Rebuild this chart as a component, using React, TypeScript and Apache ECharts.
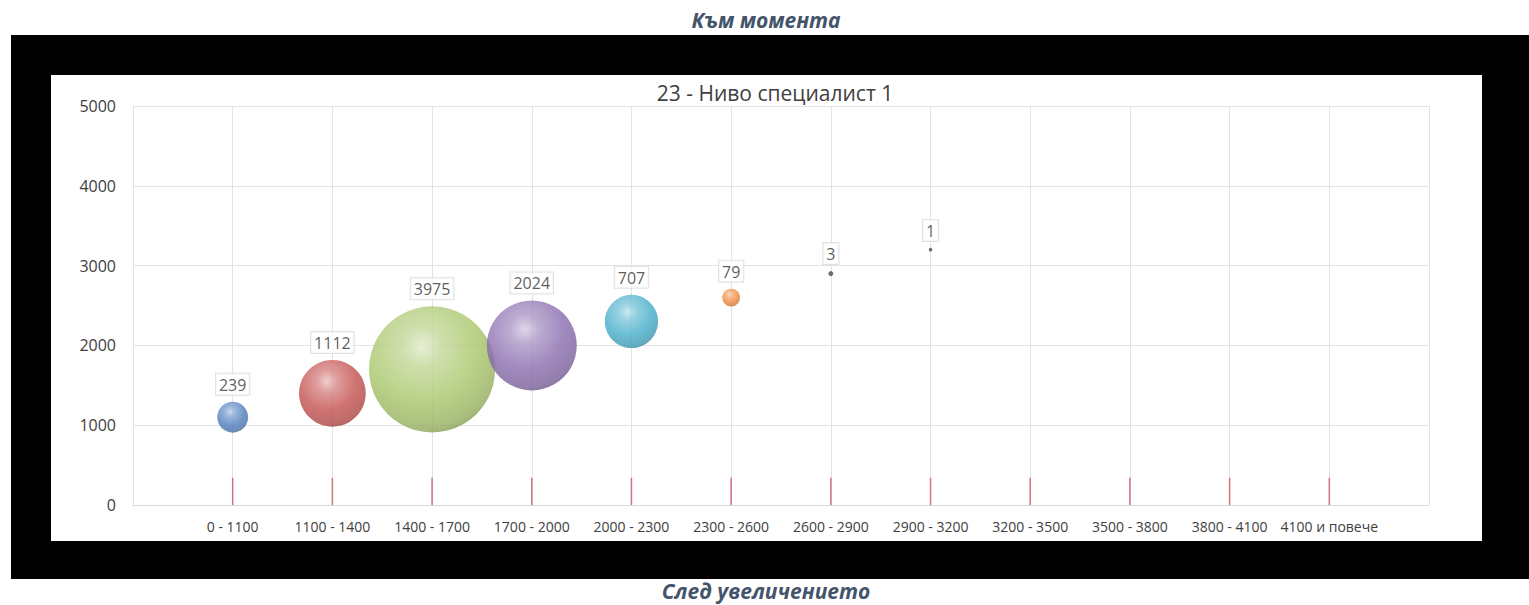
import React, { useEffect, useRef } from "react";
import * as echarts from "echarts";

const categories = [
  "0 - 1100",
  "1100 - 1400",
  "1400 - 1700",
  "1700 - 2000",
  "2000 - 2300",
  "2300 - 2600",
  "2600 - 2900",
  "2900 - 3200",
  "3200 - 3500",
  "3500 - 3800",
  "3800 - 4100",
  "4100 и повече",
];
// bubble vertical positions (y values) and bubble sizes (counts)
const bubbleY = [1100, 1400, 1700, 2000, 2300, 2600, 2900, 3200];
const bubbleCounts = [239, 1112, 3975, 2024, 707, 79, 3, 1];
const palette = ["#4f7fbd", "#c4504e", "#a8c66a", "#8a6cae", "#46aecb", "#f08a3c", "#4a4a4a", "#4a4a4a"];
const markHeight = 340; // short red markers at each category
const yTicks = [0, 1000, 2000, 3000, 4000, 5000];

const FONT = "'Open Sans', 'Noto Sans', sans-serif";

function mix(hex: string, target: string, t: number): string {
  const p = (h: string) => [1, 3, 5].map((i) => parseInt(h.slice(i, i + 2), 16));
  const a = p(hex);
  const b = p(target);
  const c = a.map((v, i) => Math.round(v + (b[i] - v) * t));
  return "#" + c.map((v) => v.toString(16).padStart(2, "0")).join("");
}

export default function App() {
  const ref = useRef<HTMLDivElement>(null);
  useEffect(() => {
    if (!ref.current) return;
    const chart = echarts.init(ref.current, null, { renderer: "svg" });
    const bubbleData = bubbleCounts.map((c, i) => {
      const base = palette[i];
      return {
        value: [i + 1, bubbleY[i], c],
        symbolSize: 2 * Math.sqrt(c) + (c < 10 ? 1.5 : 0),
        itemStyle: {
          color:
            c < 10
              ? base
              : new echarts.graphic.RadialGradient(0.42, 0.32, 0.72, [
                  { offset: 0, color: mix(base, "#ffffff", 0.65) },
                  { offset: 0.22, color: mix(base, "#ffffff", 0.3) },
                  { offset: 0.6, color: base },
                  { offset: 0.9, color: mix(base, "#000000", 0.12) },
                  { offset: 1, color: mix(base, "#000000", 0.25) },
                ]),
        },
      };
    });
    chart.setOption({
      animation: false,
      graphic: [
        {
          type: "text",
          x: 766,
          y: 20,
          style: {
            text: "Към момента",
            fill: "#44546a",
            font: `italic bold 21px ${FONT}`,
            textAlign: "center",
            textVerticalAlign: "middle",
          },
        },
        {
          type: "text",
          x: 766,
          y: 591,
          style: {
            text: "След увеличението",
            fill: "#44546a",
            font: `italic bold 21px ${FONT}`,
            textAlign: "center",
            textVerticalAlign: "middle",
          },
        },
        {
          type: "text",
          x: 775,
          y: 93,
          style: {
            text: "23 - Ниво специалист 1",
            fill: "#404040",
            font: `21px ${FONT}`,
            textAlign: "center",
            textVerticalAlign: "middle",
          },
        },
      ],
      grid: { left: 133, top: 106, width: 1296, height: 399, containLabel: false },
      xAxis: {
        type: "value",
        min: 0,
        max: 13,
        interval: 1,
        axisLine: { show: true, lineStyle: { color: "#d9d9d9", width: 1 } },
        axisTick: { show: false },
        splitLine: { show: true, lineStyle: { color: "#e3e3e3", width: 1 } },
        axisLabel: {
          margin: 14,
          fontSize: 14,
          color: "#404040",
          fontFamily: FONT,
          formatter: (v: number) => categories[v - 1] ?? "",
        },
      },
      yAxis: {
        type: "value",
        min: yTicks[0],
        max: yTicks[yTicks.length - 1],
        interval: 1000,
        axisLine: { show: false },
        axisTick: { show: false },
        splitLine: { show: true, lineStyle: { color: "#e3e3e3", width: 1 } },
        axisLabel: {
          margin: 17,
          fontSize: 16,
          color: "#404040",
          fontFamily: FONT,
          formatter: (v: number) => String(v),
        },
      },
      series: [
        {
          type: "custom",
          data: categories.map((_, i) => [i + 1, markHeight]),
          renderItem: (params: any, api: any) => {
            const x = api.value(0);
            const p0 = api.coord([x, 0]);
            const p1 = api.coord([x, api.value(1)]);
            return {
              type: "line",
              shape: { x1: p0[0], y1: p0[1], x2: p1[0], y2: p1[1] },
              style: { stroke: "#d4707e", lineWidth: 1.5 },
            };
          },
          silent: true,
          z: 1,
        },
        {
          type: "scatter",
          data: bubbleData,
          z: 3,
          label: {
            show: true,
            position: "top",
            distance: 7,
            formatter: (p: any) => String(p.value[2]),
            backgroundColor: "#ffffff",
            borderColor: "#dadada",
            borderWidth: 1,
            padding: [3, 3, 2, 3],
            fontSize: 16,
            color: "#333333",
            fontFamily: FONT,
          },
        },
      ],
    });
    return () => chart.dispose();
  }, []);

  return (
    <div style={{ position: "fixed", left: 0, top: 0, width: 1529, height: 605, background: "#ffffff", overflow: "hidden" }}>
      <div style={{ position: "absolute", left: 11, top: 35, width: 1518, height: 544, background: "#000000" }} />
      <div style={{ position: "absolute", left: 51, top: 75, width: 1431, height: 466, background: "#ffffff" }} />
      <div ref={ref} style={{ position: "absolute", left: 0, top: 0, width: 1529, height: 605 }} />
    </div>
  );
}
